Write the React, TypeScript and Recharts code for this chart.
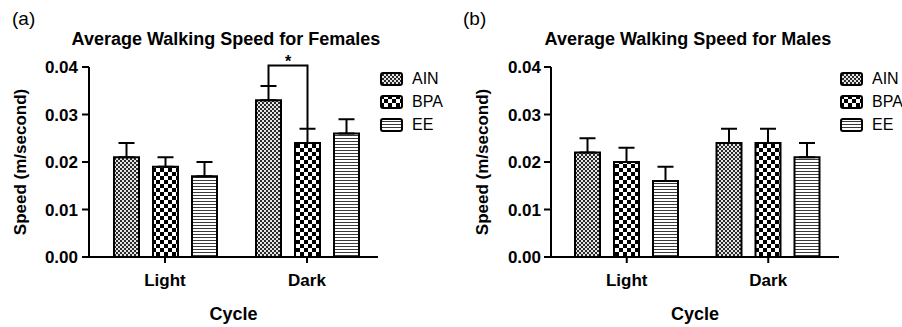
import { Bar, BarChart, ErrorBar, Legend, XAxis, YAxis } from "recharts";

const FONT = '"Liberation Sans", Arial, sans-serif';

const CYCLES = ["Light", "Dark"];
const GROUPS = ["AIN", "BPA", "EE"];
const Y_TICKS = [0, 0.01, 0.02, 0.03, 0.04];

// females
const FEMALE_AIN = [0.021, 0.033];
const FEMALE_AIN_SEM = [0.003, 0.003];
const FEMALE_BPA = [0.019, 0.024];
const FEMALE_BPA_SEM = [0.002, 0.003];
const FEMALE_EE = [0.017, 0.026];
const FEMALE_EE_SEM = [0.003, 0.003];

// males
const MALE_AIN = [0.022, 0.024];
const MALE_AIN_SEM = [0.003, 0.003];
const MALE_BPA = [0.02, 0.024];
const MALE_BPA_SEM = [0.003, 0.003];
const MALE_EE = [0.016, 0.021];
const MALE_EE_SEM = [0.003, 0.003];

// significance bracket (females, dark cycle, AIN vs BPA)
const SIG_CYCLE = "Dark";
const SIG_LEVEL = 0.0403;
const SIG_LABEL = "*";

const BAR_SIZE = 25;
const BAR_GAP = 14;

type Row = Record<string, any>;

function buildRows(
  ain: number[],
  ainSem: number[],
  bpa: number[],
  bpaSem: number[],
  ee: number[],
  eeSem: number[],
): Row[] {
  return CYCLES.map((cycle, i) => ({
    cycle,
    AIN: ain[i],
    AIN_err: [0, ainSem[i]],
    BPA: bpa[i],
    BPA_err: [0, bpaSem[i]],
    EE: ee[i],
    EE_err: [0, eeSem[i]],
  }));
}

const femaleRows = buildRows(
  FEMALE_AIN,
  FEMALE_AIN_SEM,
  FEMALE_BPA,
  FEMALE_BPA_SEM,
  FEMALE_EE,
  FEMALE_EE_SEM,
);

const maleRows = buildRows(
  MALE_AIN,
  MALE_AIN_SEM,
  MALE_BPA,
  MALE_BPA_SEM,
  MALE_EE,
  MALE_EE_SEM,
);

function Patterns({ prefix }: { prefix: string }) {
  return (
    <defs>
      <pattern id={`${prefix}-AIN`} width={4} height={4} patternUnits="userSpaceOnUse">
        <rect width={4} height={4} fill="#e6e6e6" />
        <rect width={2} height={2} fill="#2a2a2a" />
        <rect x={2} y={2} width={2} height={2} fill="#2a2a2a" />
      </pattern>
      <pattern id={`${prefix}-BPA`} width={8} height={8} patternUnits="userSpaceOnUse">
        <rect width={8} height={8} fill="#ffffff" />
        <rect width={4} height={4} fill="#000000" />
        <rect x={4} y={4} width={4} height={4} fill="#000000" />
      </pattern>
      <pattern id={`${prefix}-EE`} width={3} height={3} patternUnits="userSpaceOnUse">
        <rect width={3} height={3} fill="#ffffff" />
        <rect width={3} height={1} fill="#3a3a3a" />
      </pattern>
    </defs>
  );
}

type ShapeProps = {
  x?: number;
  y?: number;
  width?: number;
  height?: number;
  payload?: Row;
  group: string;
  prefix: string;
  bracket?: boolean;
};

function PatternBar({ x = 0, y = 0, width = 0, height = 0, payload, group, prefix, bracket }: ShapeProps) {
  let sig = null;

  if (bracket && payload && payload.cycle === SIG_CYCLE && payload[group] > 0) {
    // pixel position of a value, from this bar's own scaled height
    const base = y + height;
    const k = height / payload[group];
    const yOf = (v: number) => base - v * k;
    const cx = x + width / 2;
    const cx2 = cx + width + BAR_GAP;
    const leftBottom = payload.AIN + payload.AIN_err[1];
    const rightBottom = payload.BPA + payload.BPA_err[1];
    const top = yOf(SIG_LEVEL);

    sig = (
      <g>
        <path
          d={`M${cx},${yOf(leftBottom)} V${top} H${cx2} V${yOf(rightBottom)}`}
          fill="none"
          stroke="#000"
          strokeWidth={2}
        />
        <text
          x={(cx + cx2) / 2}
          y={top + 1}
          textAnchor="middle"
          fontFamily={FONT}
          fontWeight="bold"
          fontSize={16}
          fill="#000"
        >
          {SIG_LABEL}
        </text>
      </g>
    );
  }

  return (
    <g>
      <rect
        x={x}
        y={y}
        width={width}
        height={height}
        fill={`url(#${prefix}-${group})`}
        stroke="#000"
        strokeWidth={2}
      />
      {sig}
    </g>
  );
}

function LegendBox({ prefix }: { prefix: string }) {
  return (
    <div style={{ fontFamily: FONT, fontSize: 16, color: "#000", whiteSpace: "nowrap" }}>
      {GROUPS.map((g) => (
        <div key={g} style={{ display: "flex", alignItems: "center", height: 23 }}>
          <svg width={23} height={14} style={{ marginRight: 9 }}>
            <rect
              x={1}
              y={1}
              width={21}
              height={12}
              rx={2}
              fill={`url(#${prefix}-${g})`}
              stroke="#000"
              strokeWidth={2}
            />
          </svg>
          <span>{g}</span>
        </div>
      ))}
    </div>
  );
}

type PanelProps = {
  tag: string;
  title: string;
  titleX: number;
  data: Row[];
  prefix: string;
  yAxisWidth: number;
  yLabelX: number;
  tickMargin: number;
  marginRight: number;
  legendLeft: number;
  bracket?: boolean;
};

function Panel({
  tag,
  title,
  titleX,
  data,
  prefix,
  yAxisWidth,
  yLabelX,
  tickMargin,
  marginRight,
  legendLeft,
  bracket,
}: PanelProps) {
  const axisStyle = { stroke: "#000", strokeWidth: 2 };

  return (
    <div style={{ position: "relative", width: 451, height: 327 }}>
      <BarChart
        width={451}
        height={327}
        data={data}
        margin={{ top: 67, right: marginRight, bottom: 0, left: 0 }}
        barSize={BAR_SIZE}
        barGap={BAR_GAP}
      >
        <Patterns prefix={prefix} />

        <XAxis
          dataKey="cycle"
          height={70}
          padding={{ left: 5, right: 0 }}
          axisLine={axisStyle}
          tickLine={axisStyle}
          tickSize={6}
          tickMargin={11}
          tick={{ fill: "#000", fontSize: 17, fontWeight: "bold", fontFamily: FONT }}
          label={{
            value: "Cycle",
            position: "insideBottom",
            offset: 7,
            fill: "#000",
            fontSize: 18,
            fontWeight: "bold",
            fontFamily: FONT,
          }}
        />

        <YAxis
          width={yAxisWidth}
          domain={[0, 0.04]}
          ticks={Y_TICKS}
          interval={0}
          tickFormatter={(v: number) => v.toFixed(2)}
          axisLine={axisStyle}
          tickLine={axisStyle}
          tickSize={7}
          tickMargin={tickMargin}
          tick={{ fill: "#000", fontSize: 17, fontWeight: "bold", fontFamily: FONT }}
          label={{
            content: (props: any) => {
              const vb = props.viewBox || { x: 0, y: 67, height: 190 };
              const lx = vb.x + yLabelX;
              const ly = vb.y + vb.height / 2;
              return (
                <text
                  x={lx}
                  y={ly}
                  transform={`rotate(-90 ${lx} ${ly})`}
                  textAnchor="middle"
                  dominantBaseline="central"
                  fontFamily={FONT}
                  fontWeight="bold"
                  fontSize={17}
                  fill="#000"
                >
                  Speed (m/second)
                </text>
              );
            },
          }}
        />

        <Legend
          layout="vertical"
          align="center"
          verticalAlign="middle"
          wrapperStyle={{ top: 67, left: legendLeft, width: "auto", height: "auto" }}
          content={() => <LegendBox prefix={prefix} />}
        />

        {GROUPS.map((g) => (
          <Bar
            key={g}
            dataKey={g}
            isAnimationActive={false}
            shape={(p: any) => (
              <PatternBar {...p} group={g} prefix={prefix} bracket={bracket && g === "AIN"} />
            )}
          >
            <ErrorBar
              dataKey={`${g}_err`}
              direction="y"
              width={8}
              stroke="#000"
              strokeWidth={2}
              isAnimationActive={false}
            />
          </Bar>
        ))}
      </BarChart>

      <svg
        width={451}
        height={327}
        style={{ position: "absolute", left: 0, top: 0, pointerEvents: "none" }}
      >
        <text x={12} y={25} fontFamily={FONT} fontSize={19} fill="#000">
          {tag}
        </text>
        <text
          x={titleX}
          y={45}
          textAnchor="middle"
          fontFamily={FONT}
          fontWeight="bold"
          fontSize={18}
          fill="#000"
        >
          {title}
        </text>
      </svg>
    </div>
  );
}

export default function App() {
  return (
    <div
      style={{
        position: "absolute",
        left: 0,
        top: 0,
        width: 902,
        height: 327,
        display: "flex",
        background: "#fff",
        overflow: "hidden",
      }}
    >
      <Panel
        tag="(a)"
        title="Average Walking Speed for Females"
        titleX={226}
        data={femaleRows}
        prefix="f"
        yAxisWidth={89}
        yLabelX={20}
        tickMargin={4}
        marginRight={73}
        legendLeft={380}
        bracket
      />
      <Panel
        tag="(b)"
        title="Average Walking Speed for Males"
        titleX={237}
        data={maleRows}
        prefix="m"
        yAxisWidth={100}
        yLabelX={31}
        tickMargin={3}
        marginRight={63}
        legendLeft={389}
      />
    </div>
  );
}
